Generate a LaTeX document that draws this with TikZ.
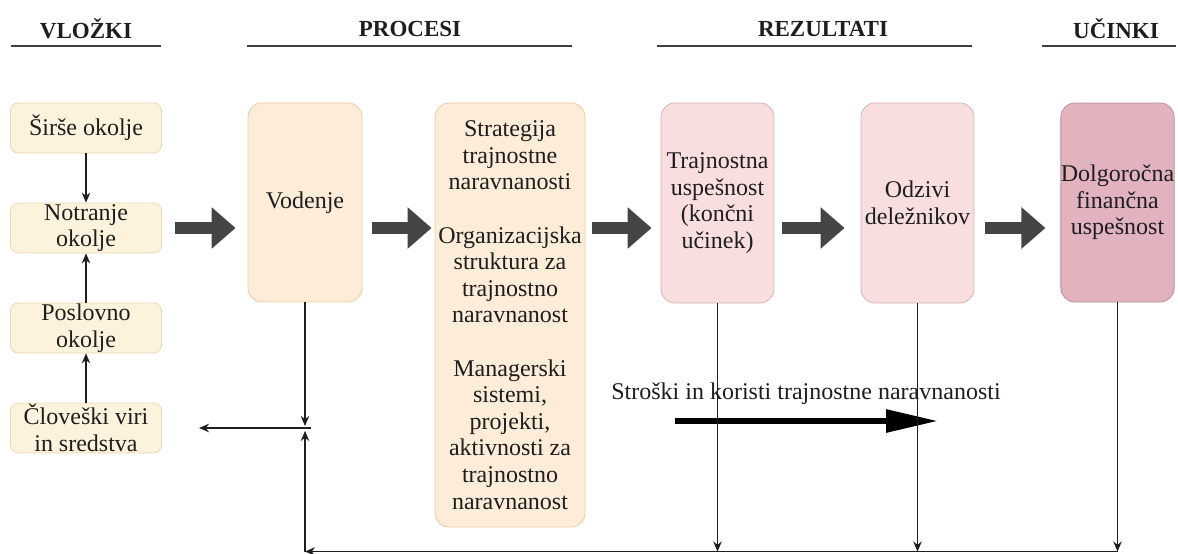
\documentclass[tikz,border=0pt]{standalone}
\usepackage{fontspec}
\setmainfont{Liberation Serif}
\usetikzlibrary{arrows.meta,calc}

\definecolor{inFill}{HTML}{FDF3DC}
\definecolor{inDraw}{HTML}{E9D9B2}
\definecolor{prFill}{HTML}{FDEDD8}
\definecolor{prDraw}{HTML}{EACB9F}
\definecolor{reFill}{HTML}{F9DEDF}
\definecolor{reDraw}{HTML}{D8B2B3}
\definecolor{ucFill}{HTML}{E2B2BE}
\definecolor{ucDraw}{HTML}{B98F9B}
\definecolor{bigArrow}{HTML}{454545}
\definecolor{ink}{HTML}{1E1E1E}

\begin{document}
\begin{tikzpicture}[x=1pt,y=-1pt,
  txt/.style={font=\fontsize{24}{26.6}\selectfont, text=ink, align=center},
  header/.style={font=\bfseries\fontsize{23}{26}\selectfont, text=ink},
  rule/.style={line width=2.4pt, draw=ink!85},
  inbox/.style={txt, draw=inDraw, fill=inFill, line width=0.8pt, rounded corners=8pt,
                minimum width=151pt, minimum height=50pt, inner sep=0pt},
  prbox/.style={txt, draw=prDraw, fill=prFill, line width=0.8pt, rounded corners=14pt, inner sep=0pt},
  rebox/.style={txt, draw=reDraw, fill=reFill, line width=0.8pt, rounded corners=14pt, inner sep=0pt},
  ucbox/.style={txt, draw=ucDraw, fill=ucFill, line width=0.8pt, rounded corners=14pt, inner sep=0pt},
  blockarrow/.style={draw=bigArrow, line width=12pt, -{Triangle[length=24pt,width=40pt]}},
  thin/.style={draw=ink, line width=1.1pt, -{Stealth[length=10pt,width=8.5pt]}},
  heavy/.style={draw=black, line width=6pt, -{Triangle[length=52pt,width=22pt]}}
]
\useasboundingbox (0,0) rectangle (1178,554);

% column headers with their rules
\node[header] (hIn) at (86,29) {VLOŽKI};
\node[header] (hPr) at (410,29) {PROCESI};
\node[header] (hRe) at (823,29) {REZULTATI};
\node[header] (hUc) at (1116,29) {UČINKI};
\draw[rule] (11,46) -- (161,46);
\draw[rule] (247,46) -- (572,46);
\draw[rule] (657,46) -- (972,46);
\draw[rule] (1042,46) -- (1176,46);

% inputs
\node[inbox] (l1) at (86,128) {Širše okolje};
\node[inbox] (l2) at (86,228) {Notranje\\okolje};
\node[inbox] (l3) at (86,328) {Poslovno\\okolje};
\node[inbox] (l4) at (86,428) {Človeški viri\\in sredstva};
\draw[thin] (l1) -- (l2);
\draw[thin] (l3) -- (l2);
\draw[thin] (l4) -- (l3);

% processes
\node[prbox, minimum width=114pt, minimum height=199pt] (vod) at (305,202.5) {Vodenje};
\node[prbox, minimum width=150pt, minimum height=424pt] (str) at (510,315)
  {Strategija\\trajnostne\\naravnanosti\\[26.6pt]Organizacijska\\struktura za\\trajnostno\\naravnanost\\[26.6pt]Managerski\\sistemi,\\projekti,\\aktivnosti za\\trajnostno\\naravnanost};

% results and outcome
\node[rebox, minimum width=113pt, minimum height=200pt] (tru) at (717.5,203) {Trajnostna\\uspešnost\\(končni\\učinek)};
\node[rebox, minimum width=113pt, minimum height=200pt] (odz) at (917.5,203) {Odzivi\\deležnikov};
\node[ucbox, minimum width=111pt, minimum height=199pt] (dol) at (1117.5,202.5) {Dolgoročna\\finančna\\uspešnost};

% main flow
\draw[blockarrow] ([xshift=13pt]l2.east) -- ([xshift=-12pt]l2.east -| vod.west);
\draw[blockarrow] ([xshift=10pt]vod.east |- l2.east) -- ([xshift=-3pt]str.west |- l2.east);
\draw[blockarrow] ([xshift=7pt]str.east |- l2.east) -- ([xshift=-9pt]tru.west |- l2.east);
\draw[blockarrow] ([xshift=8pt]tru.east |- l2.east) -- ([xshift=-16pt]odz.west |- l2.east);
\draw[blockarrow] ([xshift=11pt]odz.east |- l2.east) -- ([xshift=-15pt]dol.west |- l2.east);

% costs and benefits
\node[txt, anchor=base] (cost) at (806,399) {Stroški in koristi trajnostne naravnanosti};
\coordinate (cs) at (675,421);
\coordinate (ce) at (938,421);
\draw[heavy] (cs) -- (ce);

% feedback loop
\coordinate (hub) at (vod.south |- l4.east);
\coordinate (hubR) at (311,428);
\coordinate (hubL) at (199,428);
\coordinate (bl) at (305,551.5);
\coordinate (b1) at (tru.south |- bl);
\coordinate (b2) at (odz.south |- bl);
\coordinate (b3) at (dol.south |- bl);
\draw[thin] (vod.south) -- ([yshift=2pt]hub);
\draw[thin] (hubR) -- (hubL);
\draw[thin] (tru.south) -- (b1);
\draw[thin] (odz.south) -- (b2);
\draw[thin] (dol.south) -- (b3);
\draw[thin] (b3) -- (bl);
\draw[thin] (bl) -- ([yshift=-3pt]hub);
\end{tikzpicture}
\end{document}
